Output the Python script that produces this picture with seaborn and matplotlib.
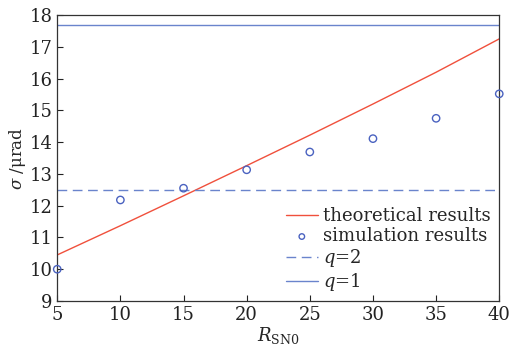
import matplotlib
matplotlib.use("Agg")
import matplotlib.pyplot as plt
import numpy as np
import pandas as pd
import seaborn as sns

# values
r_sn0 = [5, 10, 15, 20, 25, 30, 35, 40]
theory = [10.45, 11.37, 12.31, 13.26, 14.22, 15.2, 16.2, 17.25]
simulation = [10.0, 12.18, 12.55, 13.13, 13.69, 14.11, 14.75, 15.52]
q2_level = 12.5
q1_level = 17.7

df = pd.DataFrame({'R': r_sn0, 'theory': theory, 'sim': simulation})

sns.set_theme(style='ticks')
plt.rcParams['font.family'] = ['DejaVu Serif']
plt.rcParams['mathtext.fontset'] = 'dejavuserif'

fig, ax = plt.subplots(figsize=(5.11, 3.5), dpi=100)

sns.lineplot(data=df, x='R', y='theory', ax=ax, color='#f0503c', lw=1.0,
             label='theoretical results')
sns.scatterplot(data=df, x='R', y='sim', ax=ax, marker='o', s=28,
                facecolors='none', edgecolor='#4a62c0', linewidth=1.0,
                label='simulation results', clip_on=False, zorder=5)
ax.axhline(q2_level, color='#6a84cc', lw=1.0, ls=(0, (7, 4)), label='$q$=2')
ax.axhline(q1_level, color='#6a84cc', lw=1.0, label='$q$=1')

ax.set_xlim(5, 40)
ax.set_ylim(9, 18)
ax.set_xticks(range(5, 41, 5))
ax.set_yticks(range(9, 19))
ax.tick_params(direction='in', labelsize=13, length=4, width=0.8,
               top=False, right=False, colors='#222222')
for sp in ax.spines.values():
    sp.set_linewidth(0.9)
    sp.set_color('#333333')

ax.set_xlabel(r'$R_{\mathrm{SN0}}$', fontsize=13, labelpad=1)
ax.set_ylabel(r'$\sigma$ /μrad', fontsize=12, labelpad=1)

ax.legend(loc='lower right', frameon=False, fontsize=13, handlelength=1.8,
          handletextpad=0.3, labelspacing=0.1, borderaxespad=0.05,
          markerscale=0.75)

fig.subplots_adjust(left=0.112, right=0.977, top=0.957, bottom=0.14)
fig.savefig('out.png', dpi=100)
